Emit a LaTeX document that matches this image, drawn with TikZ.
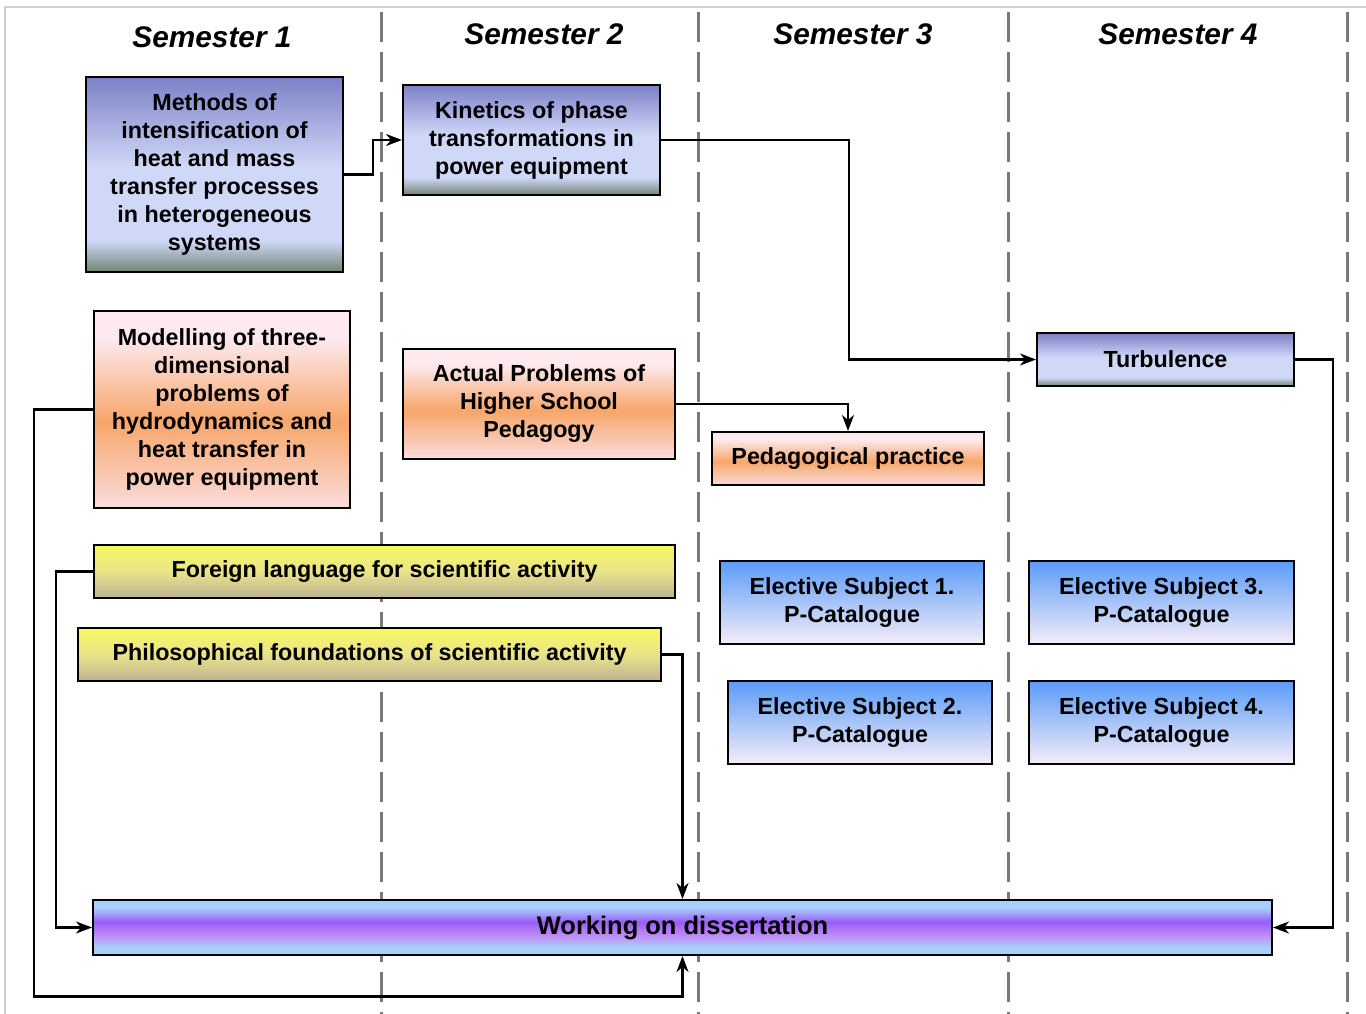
\documentclass[tikz,border=0pt]{standalone}
\usepackage{fontspec}
\setmainfont{Liberation Sans}
\usetikzlibrary{arrows.meta}
\definecolor{bT}{HTML}{7C80C6}
\definecolor{bM}{HTML}{D0D8F8}
\definecolor{bB}{HTML}{6F8472}
\definecolor{oE}{HTML}{FDE9EE}
\definecolor{oB}{HTML}{FBDCDC}
\definecolor{oM}{HTML}{F7A66A}
\definecolor{yT}{HTML}{F8F860}
\definecolor{yM}{HTML}{EAE48A}
\definecolor{yB}{HTML}{BDB393}
\definecolor{eT}{HTML}{5A9CF8}
\definecolor{eB}{HTML}{F5EDF8}
\definecolor{wE}{HTML}{A8D0FA}
\definecolor{wM}{HTML}{9A5CF8}
\definecolor{wL}{HTML}{C090F8}
\definecolor{dashgray}{HTML}{7A7A7A}
\definecolor{framegray}{HTML}{D0D0D0}
\pgfdeclareverticalshading{blueS}{100bp}{color(0bp)=(bB); color(25bp)=(bB); color(33bp)=(bM); color(52bp)=(bM); color(75bp)=(bT); color(100bp)=(bT)}
\pgfdeclareverticalshading{orangeS}{100bp}{color(0bp)=(oB); color(25bp)=(oB); color(47bp)=(oM); color(68bp)=(oE); color(75bp)=(oE); color(100bp)=(oE)}
\pgfdeclareverticalshading{yellowS}{100bp}{color(0bp)=(yB); color(25bp)=(yB); color(50bp)=(yM); color(75bp)=(yT); color(100bp)=(yT)}
\pgfdeclareverticalshading{electS}{100bp}{color(0bp)=(eB); color(25bp)=(eB); color(75bp)=(eT); color(100bp)=(eT)}
\pgfdeclareverticalshading{workS}{100bp}{color(0bp)=(wE); color(25bp)=(wE); color(32bp)=(wE); color(42bp)=(wL); color(55bp)=(wM); color(68bp)=(wE); color(75bp)=(wE); color(100bp)=(wE)}
\tikzset{
  box/.style={draw=black, line width=2pt, inner sep=0pt, align=center,
    font=\fontsize{23.3}{28}\selectfont\bfseries},
  bluebox/.style={box, shading=blueS},
  orangebox/.style={box, shading=orangeS},
  yellowbox/.style={box, shading=yellowS},
  electbox/.style={box, shading=electS},
  workbox/.style={box, shading=workS, font=\fontsize{25.5}{28}\selectfont\bfseries},
  head/.style={font=\fontsize{29.8}{34}\selectfont\bfseries\itshape},
  conn/.style={draw=black, line width=2.2pt, -{Stealth[length=16pt,width=12pt,inset=5pt]}},
  sep/.style={draw=dashgray, line width=3pt, dash pattern=on 30pt off 10pt}
}
\begin{document}
\begin{tikzpicture}[x=1pt,y=-1pt]
\useasboundingbox (0,0) rectangle (1366,1014);
% frame
\draw[framegray, line width=1.5pt] (5,1014) -- (5,7) -- (1366,7);
% semester separators
\foreach \xx in {381,698,1008,1347}
  \draw[sep] (\xx,12) -- (\xx,1014);
% headers
\node[head] (h1) at (212,37) {Semester 1};
\node[head] (h2) at (544,34) {Semester 2};
\node[head] (h3) at (853,34) {Semester 3};
\node[head] (h4) at (1178,34) {Semester 4};
% boxes
\node[bluebox, minimum width=257pt, minimum height=195pt] (meth) at (214.5,174.5)
  {Methods of\\intensification of\\heat and mass\\transfer processes\\in heterogeneous\\systems};
\node[bluebox, minimum width=257pt, minimum height=110pt] (kin) at (531.5,140)
  {Kinetics of phase\\transformations in\\power equipment};
\node[orangebox, minimum width=256pt, minimum height=197pt] (mod) at (222,409.5)
  {Modelling of three-\\dimensional\\problems of\\hydrodynamics and\\heat transfer in\\power equipment};
\node[orangebox, minimum width=272pt, minimum height=110pt] (act) at (539,404)
  {Actual Problems of\\Higher School\\Pedagogy};
\node[orangebox, minimum width=272pt, minimum height=53pt] (ped) at (848,458.5)
  {Pedagogical practice};
\node[bluebox, minimum width=257pt, minimum height=53pt] (turb) at (1165.5,359.5)
  {Turbulence};
\node[yellowbox, minimum width=581pt, minimum height=53pt] (for) at (384.5,571.5)
  {Foreign language for scientific activity};
\node[yellowbox, minimum width=583pt, minimum height=53pt] (phil) at (369.5,654.5)
  {Philosophical foundations of scientific activity};
\node[electbox, minimum width=264pt, minimum height=83pt] (e1) at (852,602.5)
  {Elective Subject 1.\\P-Catalogue};
\node[electbox, minimum width=264pt, minimum height=83pt] (e2) at (860,722.5)
  {Elective Subject 2.\\P-Catalogue};
\node[electbox, minimum width=265pt, minimum height=83pt] (e3) at (1161.5,602.5)
  {Elective Subject 3.\\P-Catalogue};
\node[electbox, minimum width=265pt, minimum height=83pt] (e4) at (1161.5,722.5)
  {Elective Subject 4.\\P-Catalogue};
\node[workbox, minimum width=1179pt, minimum height=55pt] (work) at (682.5,927.5)
  {Working on dissertation};
% connectors
\draw[conn] (meth.east) -- ++(29,0) |- (kin.west);
\draw[conn] (kin.east) -- ++(188,0) |- (turb.west);
\draw[conn] (act.east) -| (ped.north);
\draw[conn] (turb.east) -- ++(38,0) |- (work.east);
\draw[conn] (mod.west) -- ++(-59,0) -- ++(0,587) -| (work.south);
\draw[conn] (for.west) -- ++(-37,0) |- (work.west);
\draw[conn] (phil.east) -| (work.north);
\end{tikzpicture}
\end{document}
